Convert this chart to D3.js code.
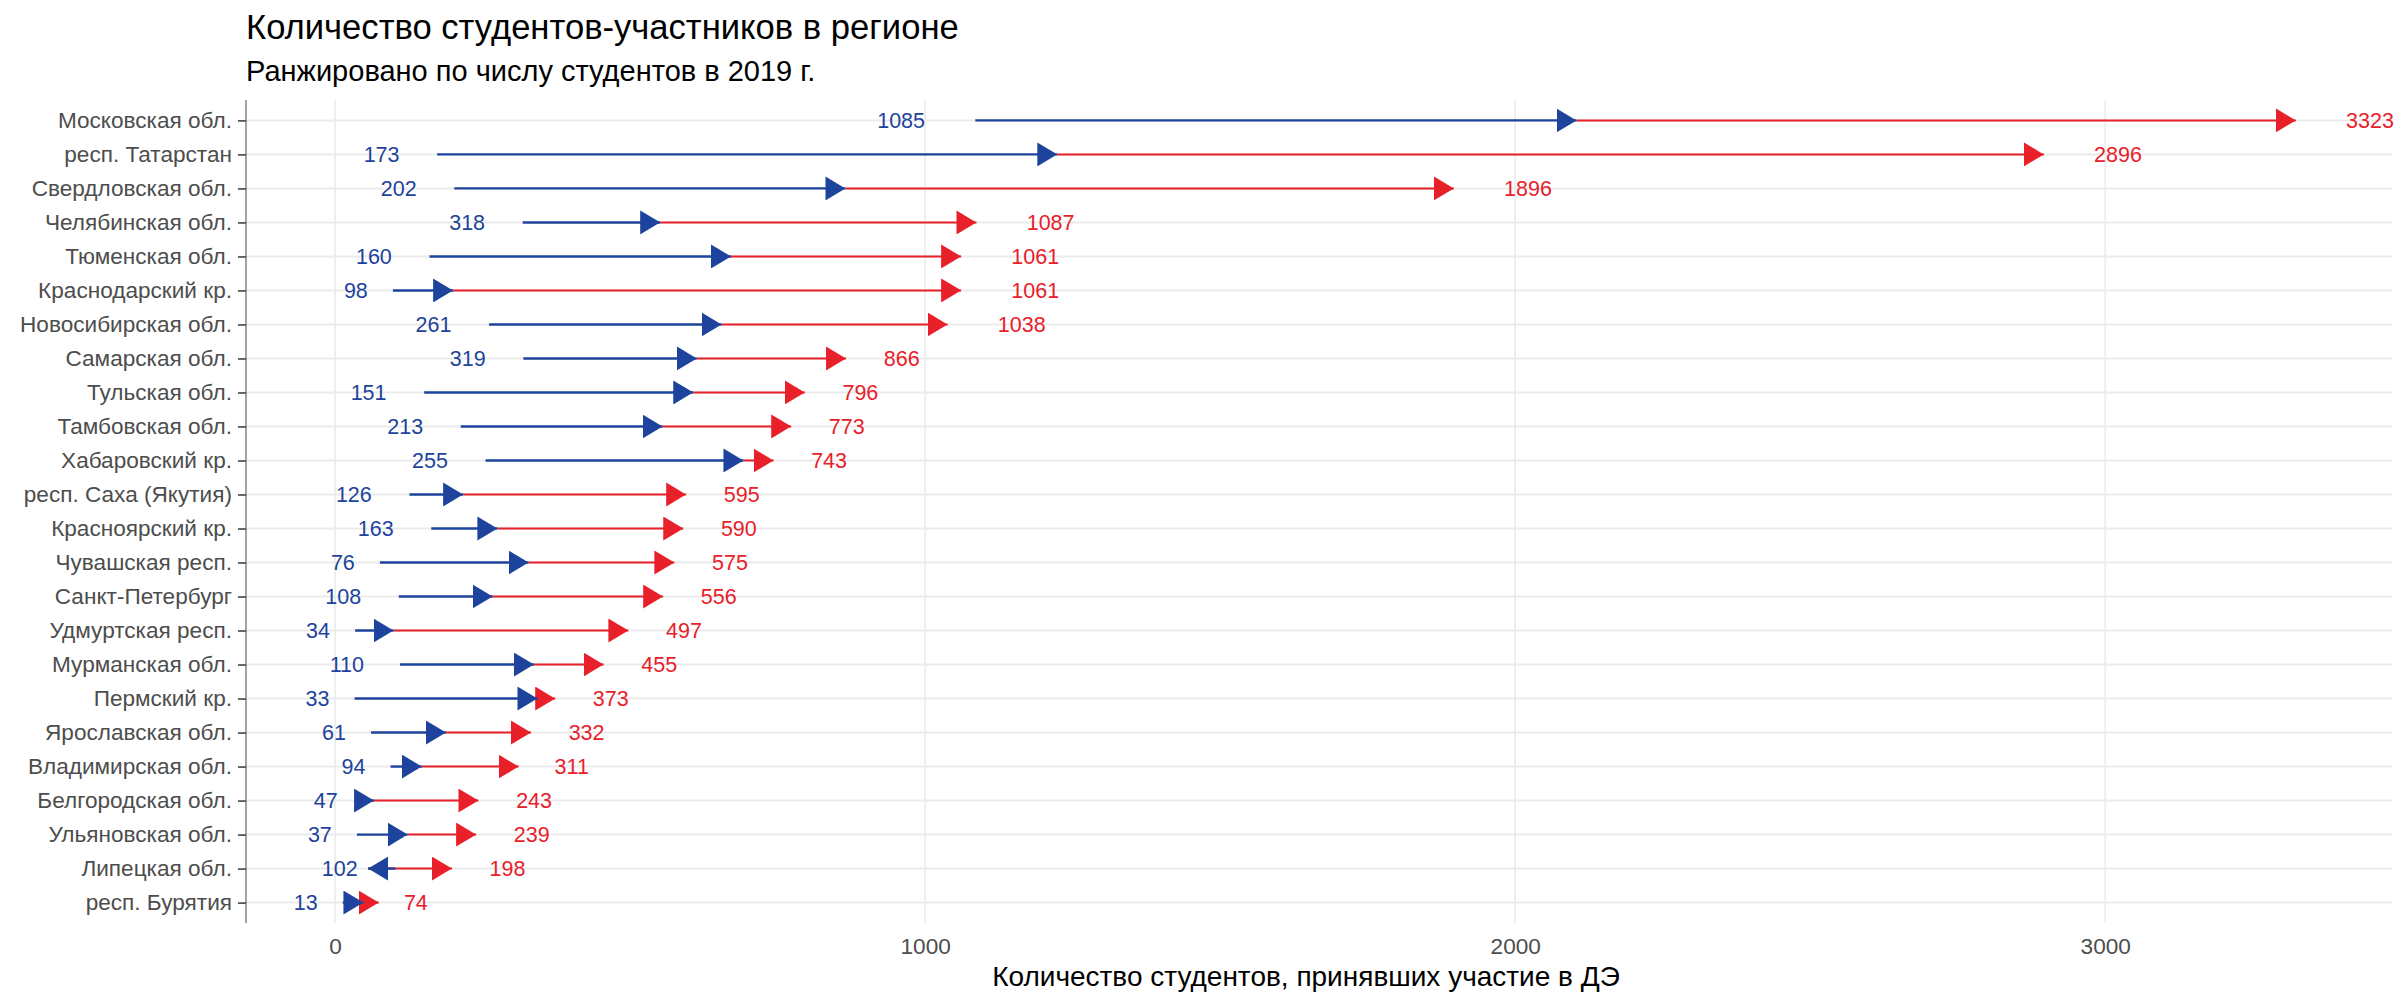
<!DOCTYPE html>
<html>
<head>
<meta charset="utf-8">
<script src="https://cdn.jsdelivr.net/npm/d3@7"></script>
<style>
  html, body { margin: 0; padding: 0; background: #fff; }
  svg { display: block; font-family: "Liberation Sans", Arial, sans-serif; }
</style>
</head>
<body>
<svg id="chart" width="2397" height="992"></svg>
<script>
// ---- data ----
const regions = [
  "Московская обл.", "респ. Татарстан", "Свердловская обл.", "Челябинская обл.",
  "Тюменская обл.", "Краснодарский кр.", "Новосибирская обл.", "Самарская обл.",
  "Тульская обл.", "Тамбовская обл.", "Хабаровский кр.", "респ. Саха (Якутия)",
  "Красноярский кр.", "Чувашская респ.", "Санкт-Петербург", "Удмуртская респ.",
  "Мурманская обл.", "Пермский кр.", "Ярославская обл.", "Владимирская обл.",
  "Белгородская обл.", "Ульяновская обл.", "Липецкая обл.", "респ. Бурятия"
];
const students2017 = [1085, 173, 202, 318, 160, 98, 261, 319, 151, 213, 255, 126, 163, 76, 108, 34, 110, 33, 61, 94, 47, 37, 102, 13];
const students2018 = [2104, 1224, 865, 551, 671, 200, 655, 613, 607, 555, 692, 217, 275, 328, 267, 99, 337, 343, 188, 147, 66, 123, 56, 48];
const students2019 = [3323, 2896, 1896, 1087, 1061, 1061, 1038, 866, 796, 773, 743, 595, 590, 575, 556, 497, 455, 373, 332, 311, 243, 239, 198, 74];
const xTicks = [0, 1000, 2000, 3000];

const titleText = "Количество студентов-участников в регионе";
const subtitleText = "Ранжировано по числу студентов в 2019 г.";
const xTitleText = "Количество студентов, принявших участие в ДЭ";

// ---- layout ----
const BLUE = "#1d439c", RED = "#e8202a";
const panel = { left: 246, right: 2392, top: 100, bottom: 923 };

const svg = d3.select("#chart");
const x = d3.scaleLinear().domain([-151, 3486]).range([panel.left, panel.right]);
const y = d3.scalePoint().domain(regions).range([panel.top, panel.bottom]).padding(0.6);

const rows = regions.map((r, i) => ({ region: r, a: students2017[i], b: students2018[i], c: students2019[i] }));

// gridlines
const grid = svg.append("g");
grid.selectAll("line.h").data(regions).join("line")
  .attr("x1", panel.left).attr("x2", panel.right)
  .attr("y1", d => y(d)).attr("y2", d => y(d))
  .attr("stroke", "#ebebeb").attr("stroke-width", 2);
grid.selectAll("line.v").data(xTicks).join("line")
  .attr("x1", d => x(d)).attr("x2", d => x(d))
  .attr("y1", panel.top).attr("y2", panel.bottom)
  .attr("stroke", "#ebebeb").attr("stroke-width", 1.6);

// markers
const defs = svg.append("defs");
function marker(id, color) {
  defs.append("marker").attr("id", id)
    .attr("markerUnits", "userSpaceOnUse")
    .attr("viewBox", "0 0 20 24").attr("refX", 20).attr("refY", 12)
    .attr("markerWidth", 20).attr("markerHeight", 24)
    .attr("orient", "auto")
    .append("path").attr("d", "M0,0 L20,12 L0,24 Z").attr("fill", color);
}
marker("arrRed", RED);
marker("arrBlue", BLUE);

// red arrows (2018 -> 2019)
svg.append("g").selectAll("line").data(rows).join("line")
  .attr("x1", d => x(d.b)).attr("x2", d => x(d.c))
  .attr("y1", d => y(d.region)).attr("y2", d => y(d.region))
  .attr("stroke", RED).attr("stroke-width", 2)
  .attr("marker-end", "url(#arrRed)");

// blue arrows (2017 -> 2018)
svg.append("g").selectAll("line").data(rows).join("line")
  .attr("x1", d => x(d.a)).attr("x2", d => x(d.b))
  .attr("y1", d => y(d.region)).attr("y2", d => y(d.region))
  .attr("stroke", BLUE).attr("stroke-width", 2.4)
  .attr("marker-end", "url(#arrBlue)");

// value labels
const labelSize = 21.5;
const blueLab = svg.append("g").selectAll("text").data(rows).join("text")
  .attr("y", d => y(d.region)).attr("dy", "0.36em")
  .attr("font-size", labelSize).attr("fill", BLUE)
  .attr("text-anchor", "end")
  .text(d => d.a);
blueLab.each(function(d) {
  const w = this.getComputedTextLength();
  d3.select(this).attr("x", x(d.a) - 1.05 * w);
});
const redLab = svg.append("g").selectAll("text").data(rows).join("text")
  .attr("y", d => y(d.region)).attr("dy", "0.36em")
  .attr("font-size", labelSize).attr("fill", RED)
  .attr("text-anchor", "start")
  .text(d => d.c);
redLab.each(function(d) {
  const w = this.getComputedTextLength();
  d3.select(this).attr("x", x(d.c) + 1.05 * w);
});

// y axis
const yAxis = svg.append("g").attr("transform", `translate(${panel.left},0)`)
  .call(d3.axisLeft(y).tickSize(8).tickPadding(6));
yAxis.select(".domain").attr("stroke", "#8c8c8c").attr("stroke-width", 1.6)
  .attr("d", `M0,${panel.top}V${panel.bottom}`);
yAxis.selectAll(".tick line").attr("stroke", "#444").attr("stroke-width", 1.6);
yAxis.selectAll(".tick text").attr("font-size", 22.6).attr("fill", "#4d4d4d")
  .attr("font-family", "'Liberation Sans', Arial, sans-serif");

// x axis (labels only)
const xAxis = svg.append("g").attr("transform", `translate(0,${panel.bottom})`)
  .call(d3.axisBottom(x).tickValues(xTicks).tickSize(0).tickPadding(15).tickFormat(d3.format("d")));
xAxis.select(".domain").remove();
xAxis.selectAll(".tick text").attr("font-size", 22.6).attr("fill", "#4d4d4d")
  .attr("font-family", "'Liberation Sans', Arial, sans-serif");

// titles
svg.append("text").attr("x", 246).attr("y", 38.5)
  .attr("font-size", 34.6).attr("fill", "#000").text(titleText);
svg.append("text").attr("x", 246).attr("y", 81)
  .attr("font-size", 29).attr("fill", "#000").text(subtitleText);
svg.append("text").attr("x", 1306).attr("y", 986)
  .attr("text-anchor", "middle")
  .attr("font-size", 28).attr("fill", "#000").text(xTitleText);
</script>
</body>
</html>
